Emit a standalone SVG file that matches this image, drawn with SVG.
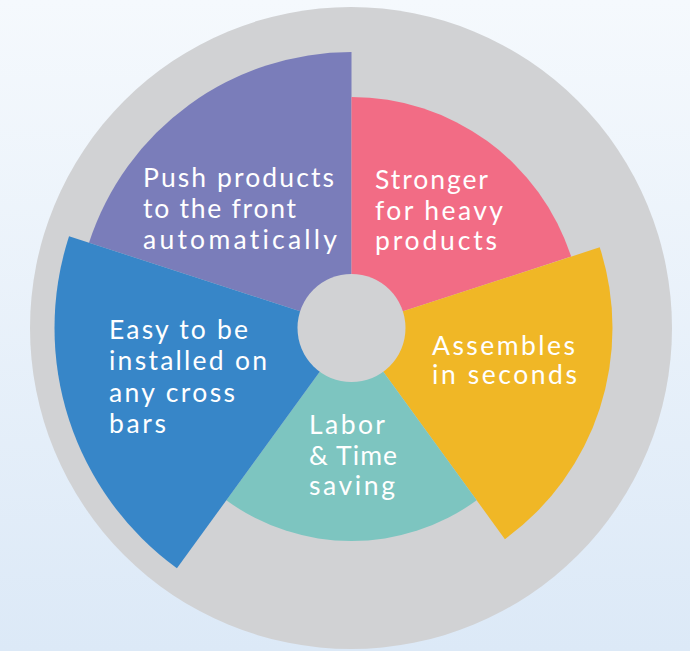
<svg xmlns="http://www.w3.org/2000/svg" width="690" height="651" viewBox="0 0 690 651">
  <defs>
    <linearGradient id="bg" x1="0" y1="0" x2="0" y2="1">
      <stop offset="0" stop-color="#F5F9FD"/>
      <stop offset="1" stop-color="#DCE9F7"/>
    </linearGradient>
  </defs>
  <style>
    .lbl { font-family: "Lato", "Liberation Sans", sans-serif; font-size: 26.5px; fill: #FFFFFF; font-variant-ligatures: none; }
    .ring { fill: #D1D2D4; }
  </style>
  <rect x="0" y="0" width="690" height="651" fill="url(#bg)"/>
  <circle class="ring" cx="351" cy="328" r="321"/>

  <g id="node-push">
    <path d="M351.5 328 L89.01 242.71 A276 276 0 0 1 351.5 52 Z" fill="#7A7DBA"/>
    <text class="lbl"><tspan x="143" y="187" textLength="191" lengthAdjust="spacing">Push products</tspan><tspan x="143" y="218" textLength="153" lengthAdjust="spacing">to the front</tspan><tspan x="143" y="248.5" textLength="194" lengthAdjust="spacing">automatically</tspan></text>
  </g>

  <g id="node-stronger">
    <path d="M351.5 328 L351.5 97 A231 231 0 0 1 571.19 256.62 Z" fill="#F26C85"/>
    <text class="lbl"><tspan x="375" y="189" textLength="113" lengthAdjust="spacing">Stronger</tspan><tspan x="375" y="220" textLength="128" lengthAdjust="spacing">for heavy</tspan><tspan x="375" y="250" textLength="122" lengthAdjust="spacing">products</tspan></text>
  </g>

  <g id="node-assembles">
    <path d="M351.5 328 L599.73 247.35 A261 261 0 0 1 504.91 539.15 Z" fill="#F0B726"/>
    <text class="lbl"><tspan x="432" y="355" textLength="143" lengthAdjust="spacing">Assembles</tspan><tspan x="432" y="384" textLength="145" lengthAdjust="spacing">in seconds</tspan></text>
  </g>

  <g id="node-labor">
    <path d="M351.5 328 L476.70 500.32 A213 213 0 0 1 226.30 500.32 Z" fill="#7DC5C0"/>
    <text class="lbl"><tspan x="309" y="433.5" textLength="76" lengthAdjust="spacing">Labor</tspan><tspan x="309" y="465" textLength="88" lengthAdjust="spacing">&amp; Time</tspan><tspan x="309" y="495" textLength="86" lengthAdjust="spacing">saving</tspan></text>
  </g>

  <g id="node-easy">
    <path d="M351.5 328 L176.93 568.28 A297 297 0 0 1 69.04 236.22 Z" fill="#3786C8"/>
    <text class="lbl"><tspan x="109" y="338.5" textLength="139" lengthAdjust="spacing">Easy to be</tspan><tspan x="109" y="370" textLength="158" lengthAdjust="spacing">installed on</tspan><tspan x="109" y="401.5" textLength="126" lengthAdjust="spacing">any cross</tspan><tspan x="109" y="433" textLength="57" lengthAdjust="spacing">bars</tspan></text>
  </g>

  <g id="hub">
    <circle class="ring" cx="351.5" cy="328" r="54"/>
  </g>

  <g id="connectors"/>
</svg>
